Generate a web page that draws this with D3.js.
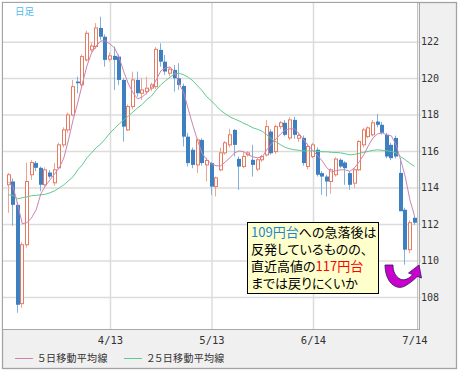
<!DOCTYPE html>
<html>
<head>
<meta charset="utf-8">
<script src="https://cdnjs.cloudflare.com/ajax/libs/d3/7.8.5/d3.min.js"></script>
<style>
body { margin: 0; background: #fff; }
.num { font-family: "DejaVu Sans Mono", monospace; }
.jp { font-family: "Noto Sans CJK JP", sans-serif; font-feature-settings: "palt"; }
</style>
</head>
<body>
<svg id="chart" width="461" height="372"></svg>
<script>
// daily candles, 3/14 .. 7/14 (yen)
var open = [114.15,114.33,113.05,107.63,110.86,114.70,115.35,115.08,114.15,114.82,
    114.26,115.08,116.34,117.16,117.98,119.81,119.63,121.00,121.55,121.73,
    122.75,122.27,121.04,121.22,121.18,119.90,117.16,118.44,119.90,119.17,
    119.26,119.45,119.53,121.55,120.90,120.27,120.45,119.99,119.57,116.79,
    116.07,115.24,116.61,115.24,115.34,114.05,114.97,115.90,116.34,117.16,
    115.57,115.15,115.80,115.52,115.01,115.52,115.79,117.07,115.97,117.34,
    117.55,116.72,117.71,116.70,116.72,115.15,115.70,116.07,114.79,114.60,
    114.33,114.70,115.52,115.37,114.79,114.24,114.97,116.34,116.79,116.89,
    117.62,117.44,116.89,116.34,116.72,114.80,112.78,110.59,112.34];
var high = [114.81,114.50,113.20,111.00,115.37,115.50,115.45,115.15,115.10,114.95,
    115.35,116.45,117.30,118.10,119.90,120.08,121.30,122.60,121.93,123.02,
    123.37,122.40,121.40,121.73,121.30,120.00,118.55,120.36,120.36,120.01,
    120.08,119.75,121.70,121.91,121.27,120.60,120.72,120.82,119.70,117.00,
    116.20,116.70,116.70,115.63,115.40,114.60,116.18,116.55,117.22,117.20,
    115.70,115.97,116.00,116.34,115.60,115.80,117.71,117.20,117.45,117.65,
    117.70,117.85,117.89,117.00,116.85,116.40,116.45,116.20,114.90,114.70,
    115.05,115.65,115.60,115.45,114.90,115.05,116.60,117.27,117.35,117.71,
    118.04,117.60,117.00,116.45,116.85,115.60,112.90,112.20,112.45];
var low = [112.61,111.90,107.13,107.40,110.70,114.42,114.90,113.80,114.05,114.50,
    114.10,115.00,116.20,117.00,117.90,119.17,119.50,120.90,121.43,121.60,
    122.10,120.63,120.90,119.35,119.63,116.52,117.10,118.30,118.99,118.81,
    119.10,119.30,119.40,120.63,120.18,120.10,119.26,119.35,116.25,115.15,
    115.06,114.79,115.20,114.33,113.60,113.51,114.90,115.80,116.20,115.70,
    113.87,115.05,115.70,114.60,114.90,115.40,115.70,115.80,115.85,117.20,
    116.80,116.60,116.67,116.50,115.20,115.00,115.60,114.60,113.60,113.51,
    113.65,114.60,115.05,114.15,113.87,113.98,114.90,116.20,116.70,116.80,
    117.30,116.90,115.60,115.50,115.60,112.70,109.77,110.40,111.95];
var close = [114.70,113.05,107.57,110.86,114.33,115.37,115.08,114.15,114.97,114.60,
    114.97,116.34,117.16,117.98,119.53,119.72,121.18,122.46,121.76,122.75,
    122.27,121.00,121.22,121.00,119.90,117.34,118.44,119.90,119.17,119.35,
    119.45,119.63,121.58,120.90,120.36,120.49,119.99,119.63,116.79,115.34,
    115.24,116.61,115.34,115.48,114.05,114.53,115.90,116.45,116.89,116.34,
    115.15,115.70,115.90,115.24,115.52,115.70,117.34,115.88,117.34,117.55,
    116.89,117.71,116.89,116.85,115.34,116.25,116.34,114.70,114.60,114.33,
    114.97,115.56,115.15,115.06,114.15,114.97,116.52,117.16,117.27,117.55,
    117.44,117.00,115.70,115.61,115.70,112.70,110.59,112.07,112.07];
// moving averages as drawn on the chart
var ma5 = [114.31,114.04,113.05,112.01,112.07,112.34,112.78,113.65,114.09,114.42,
    114.75,115.08,115.63,116.61,117.71,118.64,119.68,120.67,121.38,121.76,
    122.04,122.04,121.87,121.65,121.11,120.34,119.68,119.19,118.86,118.97,
    119.19,119.46,119.90,120.39,120.56,120.61,120.34,119.68,119.19,118.26,
    117.38,116.56,115.85,115.52,115.30,115.19,115.19,115.41,115.63,115.90,
    116.01,115.96,115.79,115.68,115.63,115.68,116.07,116.39,116.67,116.94,
    117.16,117.22,117.22,116.94,116.61,116.29,116.01,115.74,115.46,115.08,
    114.86,114.92,114.97,114.97,114.89,115.08,115.41,115.79,116.29,116.72,
    116.94,117.00,116.89,116.83,116.34,115.52,114.59,113.33,112.45];
var ma25 = [113.60,113.57,113.38,113.44,113.49,113.55,113.57,113.60,113.63,113.71,
    113.82,113.98,114.15,114.37,114.59,114.97,115.24,115.63,115.90,116.18,
    116.39,116.67,117.00,117.24,117.49,117.71,117.93,118.15,118.37,118.56,
    118.83,119.02,119.35,119.63,119.85,120.05,120.23,120.26,120.18,120.04,
    119.85,119.57,119.30,118.97,118.75,118.48,118.23,118.04,117.87,117.76,
    117.65,117.52,117.41,117.27,117.19,117.08,116.89,116.67,116.50,116.34,
    116.20,116.12,116.07,116.04,116.01,116.01,116.01,115.98,115.96,115.96,
    115.93,115.92,115.90,115.85,115.79,115.82,115.87,115.93,115.98,116.04,
    116.07,116.04,116.01,115.98,115.90,115.70,115.52,115.33,115.16];
var dateTicks = [22, 44, 66, 88];
var dateLabels = ["4/13", "5/13", "6/14", "7/14"];
var priceTicks = [108, 110, 112, 114, 116, 118, 120, 122];
var legendNames = ["５日移動平均線", "２５日移動平均線"];
var noteLines = [
    [["109円台", "blue"], ["への急落後は", "text"]],
    [["反発しているものの、", "text"]],
    [["直近高値の", "text"], ["117円台", "red"]],
    [["までは戻りにくいか", "text"]]
];

chart = {};
chart.colors = {
    up: "#e87a60", upWick: "#efa594",
    down: "#3d7fc0", downWick: "#80b1dd",
    ma5: "#cc83b2", ma25: "#5dcb8d",
    grid: "#dcdcdc", strip: "#f0f0f0", frame: "#a3a3a3",
    blue: "#1a86d6", red: "#ff0000", text: "#000"
};

chart.svg = d3.select("#chart");
chart.x = d3.scaleLinear().domain([0, close.length - 1]).range([8.5, 414.5]);
chart.y = d3.scaleLinear().domain([106.24, 124.12]).range([329, 3]);

chart.frame = function() {
    var svg = this.svg;
    svg.append("rect").attr("width", 461).attr("height", 372).attr("fill", "#fff");
    svg.append("rect").attr("x", 2.5).attr("y", 2.5).attr("width", 454).attr("height", 366)
        .attr("fill", this.colors.strip).attr("stroke", this.colors.frame).attr("stroke-width", 1.3);
    svg.append("rect").attr("x", 3).attr("y", 3).attr("width", 415).attr("height", 326)
        .attr("fill", "#fff");
    svg.append("clipPath").attr("id", "clip").append("rect")
        .attr("x", 3).attr("y", 3).attr("width", 414).attr("height", 326);
};

chart.grid = function() {
    var c = this.colors;
    // horizontal lines
    var gy = this.svg.append("g").attr("transform", "translate(3,0)")
        .call(d3.axisRight(this.y).tickValues(priceTicks).tickSize(418).tickFormat(""));
    gy.select(".domain").remove();
    gy.selectAll("line").attr("stroke", c.grid).attr("stroke-width", 1.5);
    // vertical lines (not on the last one, it sits on the border)
    var gx = this.svg.append("g").attr("transform", "translate(0,3)")
        .call(d3.axisBottom(this.x).tickValues(dateTicks.slice(0, 3)).tickSize(326).tickFormat(""));
    gx.select(".domain").remove();
    gx.selectAll("line").attr("stroke", c.grid).attr("stroke-width", 1.5);
};

chart.candles = function() {
    var x = this.x, y = this.y, c = this.colors;
    var idx = d3.range(close.length);
    var g = this.svg.append("g").attr("clip-path", "url(#clip)");
    var up = function(i) { return close[i] >= open[i]; };

    g.selectAll("line").data(idx).enter().append("line")
        .attr("x1", function(i) { return Math.round(x(i)) - 0.5; })
        .attr("x2", function(i) { return Math.round(x(i)) - 0.5; })
        .attr("y1", function(i) { return y(high[i]); })
        .attr("y2", function(i) { return y(low[i]); })
        .attr("stroke", function(i) { return up(i) ? c.upWick : c.downWick; });

    g.selectAll("rect").data(idx).enter().append("rect")
        .attr("x", function(i) { return up(i) ? Math.round(x(i)) - 1.5 : Math.round(x(i)) - 2; })
        .attr("y", function(i) { return y(Math.max(open[i], close[i])); })
        .attr("width", function(i) { return up(i) ? 3 : 4; })
        .attr("height", function(i) { return Math.max(1, Math.abs(y(open[i]) - y(close[i]))); })
        .attr("fill", function(i) { return up(i) ? "#fff" : c.down; })
        .attr("stroke", function(i) { return up(i) ? c.up : "none"; });

    var line = d3.line().x(function(d, i) { return x(i); }).y(function(d) { return y(d); });
    g.append("path").datum(ma25).attr("d", line).attr("fill", "none")
        .attr("stroke", c.ma25).attr("stroke-width", 1);
    g.append("path").datum(ma5).attr("d", line).attr("fill", "none")
        .attr("stroke", c.ma5).attr("stroke-width", 1);
};

chart.axes = function() {
    var svg = this.svg;
    svg.append("line").attr("x1", 417.5).attr("x2", 417.5).attr("y1", 3).attr("y2", 329)
        .attr("stroke", "#c4c4c4");
    svg.append("line").attr("x1", 419.5).attr("x2", 419.5).attr("y1", 3).attr("y2", 330)
        .attr("stroke", "#a8a8a8");
    svg.append("line").attr("x1", 3).attr("x2", 420).attr("y1", 329.5).attr("y2", 329.5)
        .attr("stroke", "#a8a8a8");

    var ya = svg.append("g").attr("transform", "translate(420,0)")
        .call(d3.axisRight(this.y).tickValues(priceTicks).tickSize(0).tickPadding(1));
    ya.select(".domain").remove();
    ya.selectAll("text").attr("class", "num").attr("font-size", 10).attr("fill", "#333");

    var xa = svg.append("g").attr("transform", "translate(0,329)")
        .call(d3.axisBottom(this.x).tickValues(dateTicks).tickSize(0).tickPadding(8)
            .tickFormat(function(d, i) { return dateLabels[i]; }));
    xa.select(".domain").remove();
    xa.selectAll("text").attr("class", "num").attr("font-size", 10.5).attr("fill", "#333");

    svg.append("text").attr("class", "jp").attr("x", 15).attr("y", 15)
        .attr("font-size", 9.5).attr("fill", "#4dbbee").text("日足");
};

chart.legend = function() {
    var svg = this.svg, c = this.colors;
    var items = [{x: 15, color: c.ma5}, {x: 124, color: c.ma25}];
    items.forEach(function(d, i) {
        svg.append("line").attr("x1", d.x).attr("x2", d.x + 18).attr("y1", 358.5).attr("y2", 358.5)
            .attr("stroke", d.color);
        svg.append("text").attr("class", "jp").attr("x", d.x + 23).attr("y", 362)
            .attr("font-size", 10).attr("letter-spacing", 0.3).attr("fill", "#333")
            .text(legendNames[i]);
    });
};

chart.note = function() {
    var svg = this.svg, c = this.colors;
    svg.append("rect").attr("x", 247.5).attr("y", 222.5).attr("width", 131).attr("height", 71)
        .attr("fill", "#ffffcc").attr("stroke", "#000");
    noteLines.forEach(function(parts, k) {
        var t = svg.append("text").attr("class", "jp").attr("x", 251).attr("y", 236.5 + k * 17.3)
            .attr("font-size", 13);
        parts.forEach(function(p) {
            t.append("tspan").attr("fill", c[p[1]]).text(p[0]);
        });
    });

    // curved arrow next to the last candles
    svg.append("path")
        .attr("d", "M385,265 C385,282 396,291 405,286 C410,283 414,280 417.3,276.4 " +
            "L421.5,278 L419,265 L408.5,273 L412.7,274.6 C409,279 404,281 400,279 " +
            "C395,276 393,271 393,265 Z")
        .attr("fill", "#cc00cc").attr("stroke", "#2a1a5e").attr("stroke-width", 0.8);
};

chart.frame();
chart.grid();
chart.candles();
chart.axes();
chart.legend();
chart.note();
</script>
</body>
</html>
